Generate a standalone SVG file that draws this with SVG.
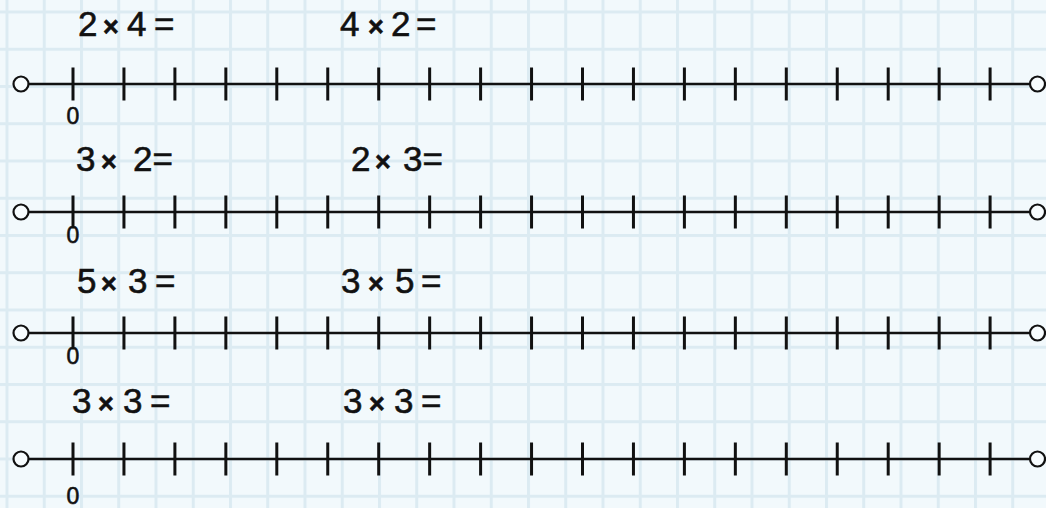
<svg xmlns="http://www.w3.org/2000/svg" width="1046" height="508" viewBox="0 0 1046 508">
  <style>
    .bg { fill: #f2f9fc; }
    .grid { fill: #dcebf2; }
    .axis { stroke: #111; stroke-width: 2.4; fill: none; }
    .tick { stroke: #111; stroke-width: 3; fill: none; }
    .end { stroke: #111; stroke-width: 2.2; fill: #f7fcfe; }
    .lbl { font-family: "Liberation Sans", Arial, sans-serif; font-size: 35px; fill: #111; stroke: #111; stroke-width: 0.6px; }
    .mul { font-size: 27px; font-weight: bold; }
    .zero { font-family: "Liberation Sans", Arial, sans-serif; font-size: 23px; fill: #111; stroke: #111; stroke-width: 0.6px; text-anchor: middle; }
  </style>
  <defs>
    <pattern id="gridpat" patternUnits="userSpaceOnUse" x="5.5" y="10.5" width="37.25" height="37.25">
      <rect class="grid" x="0" y="0" width="3" height="37.25"/>
      <rect class="grid" x="0" y="0" width="37.25" height="3"/>
    </pattern>
    <g id="numline">
      <path class="axis" d="M28.5 0 H1029.5"/>
      <path class="tick" d="M73 -16.5V16.5 M123.95 -16.5V16.5 M174.9 -16.5V16.5 M225.85 -16.5V16.5 M276.8 -16.5V16.5 M327.75 -16.5V16.5 M378.7 -16.5V16.5 M429.65 -16.5V16.5 M480.6 -16.5V16.5 M531.55 -16.5V16.5 M582.5 -16.5V16.5 M633.45 -16.5V16.5 M684.4 -16.5V16.5 M735.35 -16.5V16.5 M786.3 -16.5V16.5 M837.25 -16.5V16.5 M888.2 -16.5V16.5 M939.15 -16.5V16.5 M990.1 -16.5V16.5"/>
      <circle class="end" cx="21" cy="0" r="7.5"/>
      <circle class="end" cx="1037.5" cy="0" r="7.5"/>
    </g>
  </defs>

  <rect class="bg" x="0" y="0" width="1046" height="508"/>
  <rect x="0" y="0" width="1046" height="508" fill="url(#gridpat)"/>

  <g id="row1">
    <use href="#numline" y="84"/>
    <text class="lbl" y="36"><tspan x="78">2</tspan> <tspan class="mul" x="103">×</tspan> <tspan x="127">4</tspan> <tspan x="154">=</tspan></text>
    <text class="lbl" y="36"><tspan x="340">4</tspan> <tspan class="mul" x="368">×</tspan> <tspan x="391">2</tspan> <tspan x="416">=</tspan></text>
    <text class="zero" x="73" y="124">0</text>
  </g>

  <g id="row2">
    <use href="#numline" y="212"/>
    <text class="lbl" y="171"><tspan x="76">3</tspan> <tspan class="mul" x="101">×</tspan> <tspan x="133">2=</tspan></text>
    <text class="lbl" y="171"><tspan x="351">2</tspan> <tspan class="mul" x="375">×</tspan> <tspan x="403">3=</tspan></text>
    <text class="zero" x="73" y="243">0</text>
  </g>

  <g id="row3">
    <use href="#numline" y="333"/>
    <text class="lbl" y="293"><tspan x="77">5</tspan> <tspan class="mul" x="101">×</tspan> <tspan x="128">3</tspan> <tspan x="155">=</tspan></text>
    <text class="lbl" y="293"><tspan x="341">3</tspan> <tspan class="mul" x="368">×</tspan> <tspan x="395">5</tspan> <tspan x="421">=</tspan></text>
    <text class="zero" x="73" y="364">0</text>
  </g>

  <g id="row4">
    <use href="#numline" y="459"/>
    <text class="lbl" y="413"><tspan x="72">3</tspan> <tspan class="mul" x="98">×</tspan> <tspan x="123">3</tspan> <tspan x="150">=</tspan></text>
    <text class="lbl" y="413"><tspan x="343">3</tspan> <tspan class="mul" x="369">×</tspan> <tspan x="394">3</tspan> <tspan x="421">=</tspan></text>
    <text class="zero" x="73" y="504">0</text>
  </g>

  <g id="connectors"></g>
</svg>
